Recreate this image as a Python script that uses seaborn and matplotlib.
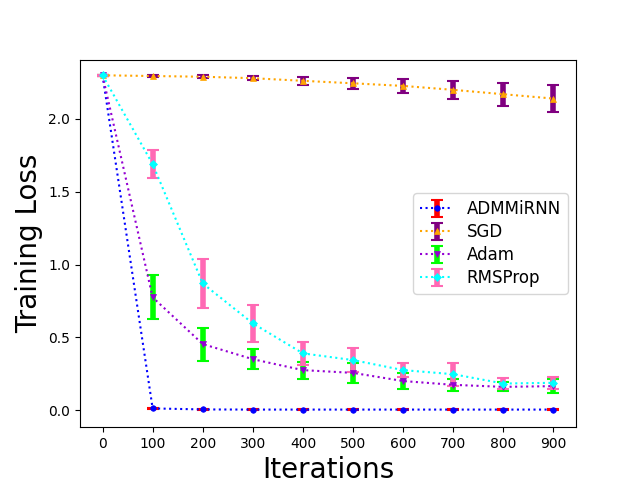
import matplotlib
matplotlib.use("Agg")
import matplotlib.pyplot as plt
import seaborn as sns
import numpy as np
import pandas as pd
from matplotlib.legend_handler import HandlerTuple

iterations = [0, 100, 200, 300, 400, 500, 600, 700, 800, 900]

admm_mean = [2.30, 0.012, 0.005, 0.004, 0.004, 0.004, 0.004, 0.004, 0.004, 0.004]
admm_err = [0.003, 0.004, 0.003, 0.003, 0.003, 0.003, 0.003, 0.003, 0.003, 0.003]

sgd_mean = [2.30, 2.295, 2.29, 2.28, 2.262, 2.245, 2.227, 2.20, 2.17, 2.14]
sgd_err = [0.003, 0.007, 0.01, 0.014, 0.027, 0.036, 0.048, 0.06, 0.079, 0.092]

adam_mean = [2.30, 0.775, 0.454, 0.35, 0.275, 0.256, 0.20, 0.174, 0.16, 0.165]
adam_err = [0.003, 0.152, 0.113, 0.069, 0.058, 0.069, 0.055, 0.039, 0.031, 0.046]

rms_mean = [2.30, 1.69, 0.87, 0.596, 0.39, 0.344, 0.275, 0.247, 0.183, 0.188]
rms_err = [0.003, 0.097, 0.168, 0.125, 0.078, 0.08, 0.048, 0.08, 0.04, 0.04]

series = [
    ("ADMMiRNN", admm_mean, admm_err, "blue", "red", "o", 4),
    ("SGD", sgd_mean, sgd_err, "orange", "purple", "^", 4.5),
    ("Adam", adam_mean, adam_err, "darkviolet", "lime", "v", 4.5),
    ("RMSProp", rms_mean, rms_err, "cyan", "hotpink", "D", 4),
]

plt.rcParams['font.family'] = ['DejaVu Sans']
fig, ax = plt.subplots(figsize=(6.4, 4.8), dpi=100)

handles = []
labels = []
for name, mean, err, lc, ec, mk, ms in series:
    eb = ax.errorbar(iterations, mean, yerr=err, fmt='none', ecolor=ec,
                     elinewidth=4, capsize=4.5, capthick=1.5, zorder=2)
    sns.lineplot(x=iterations, y=mean, ax=ax, color=lc, linestyle=':',
                 linewidth=1.5, marker=mk, markersize=ms,
                 markeredgecolor=lc, markeredgewidth=0.5, zorder=3)
    line = ax.get_lines()[-1]
    handles.append((eb, line))
    labels.append(name)

ax.set_xticks(iterations)
ax.set_yticks([0.0, 0.5, 1.0, 1.5, 2.0])
ax.set_ylim(-0.117, 2.405)
ax.set_xlabel("Iterations", fontsize=20)
ax.set_ylabel("Training Loss", fontsize=20)
ax.legend(handles, labels, loc="center right", fontsize=12, labelspacing=0.3,
          handler_map={tuple: HandlerTuple(ndivide=1, pad=0)})

fig.subplots_adjust(left=0.125, right=0.9, top=0.875, bottom=0.11)
fig.savefig("out.png", dpi=100)
